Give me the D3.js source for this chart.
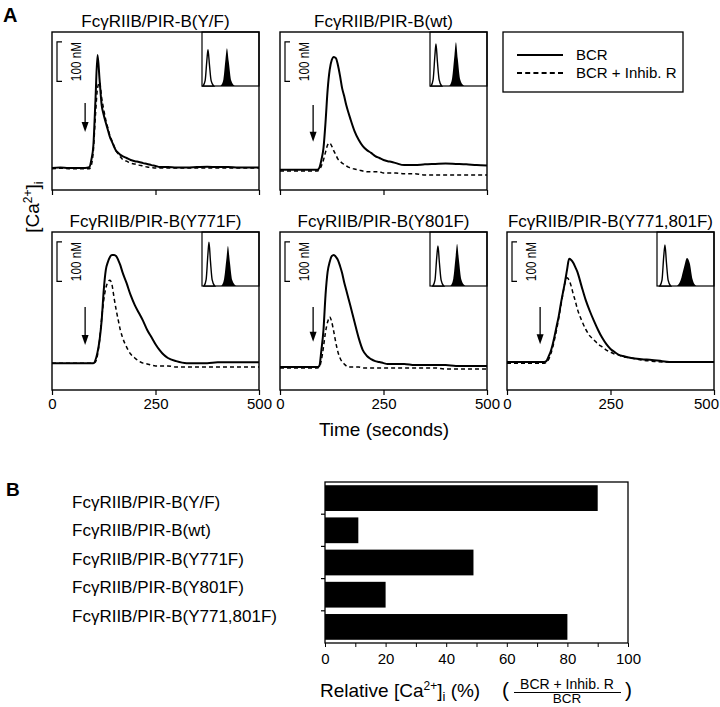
<!DOCTYPE html>
<html><head><meta charset="utf-8">
<script src="https://cdn.jsdelivr.net/npm/d3@7"></script>
<style>body{margin:0;background:#fff}svg{display:block}</style>
</head><body><svg id="c" width="720" height="707"></svg>
<script>
// ---------- DATA ----------
const panelNames = ["FcγRIIB/PIR-B(Y/F)","FcγRIIB/PIR-B(wt)","FcγRIIB/PIR-B(Y771F)","FcγRIIB/PIR-B(Y801F)","FcγRIIB/PIR-B(Y771,801F)"];
const times = [0,20,40,60,80,90,95,100,105,110,115,120,125,130,135,140,145,150,155,160,165,170,180,190,200,210,220,230,240,250,260,270,280,300,325,350,375,400,425,450,475,500];
// [Ca2+]i in nM
const bcrYF = [56,57,56,56,56,58,76,114,228,342,278,215,190,170,152,134,122,109,99,94,89,86,81,76,73,71,68,66,63,61,58,58,58,57,57,58,59,58,58,57,57,57];
const inhYF = [54,55,54,54,54,54,63,101,190,258,273,233,203,177,157,137,124,111,99,91,84,78,73,68,66,63,61,58,57,56,56,56,56,56,56,56,56,56,56,56,56,56];
const bcrWT = [51,51,51,51,51,51,56,76,106,172,253,304,329,337,334,316,289,258,238,215,197,180,149,127,111,101,94,86,81,76,73,71,68,63,63,65,66,67,66,65,63,62];
const inhWT = [48,48,48,48,48,48,51,61,76,96,114,119,111,99,89,78,73,68,65,61,58,56,53,51,48,46,46,46,46,43,43,43,43,41,41,38,38,38,38,38,38,38];
const bcr771 = [68,68,68,68,68,68,68,68,76,96,127,177,253,304,324,337,342,342,339,329,316,299,271,240,215,195,175,152,134,116,101,89,81,73,68,68,68,70,70,70,70,70];
const inh771 = [68,68,68,68,68,68,68,68,71,89,127,182,228,258,273,278,266,233,203,177,152,134,109,91,81,73,68,66,63,61,61,61,61,58,58,58,58,58,58,58,58,58];
const bcr801 = [58,58,58,58,58,58,61,101,152,241,299,324,339,342,337,329,314,296,273,253,233,213,172,132,101,86,78,73,71,68,66,66,66,66,63,63,63,63,61,61,61,61];
const inh801 = [56,56,56,56,56,56,58,76,109,147,172,185,172,147,119,96,81,71,66,61,58,58,58,58,56,56,56,56,56,56,56,56,56,56,56,56,56,53,53,53,53,53];
const bcrDbl = [71,71,71,71,71,71,73,84,96,114,137,162,187,218,246,273,304,332,329,322,311,299,263,228,200,175,152,132,116,104,96,89,86,81,78,76,73,71,71,71,71,71];
const inhDbl = [68,68,68,68,68,68,70,76,89,106,129,154,182,213,243,271,284,278,263,243,225,205,177,154,137,127,116,109,101,96,91,89,84,81,76,73,71,71,71,71,71,71];
const stimTime = 80;
const timeTicks = [0,250,500];
const scaleBarNM = [275,375];
// inset histograms: x = log10 fluorescence, y = relative count
const histOpenX = [[0.07,0.22,0.34,0.42,0.52,0.64,0.82],[0.07,0.22,0.34,0.42,0.52,0.64,0.82],[0.14,0.29,0.41,0.49,0.59,0.71,0.89],[0.2,0.35,0.47,0.56,0.66,0.78,0.96],[0.2,0.35,0.47,0.56,0.66,0.78,0.96]];
const histOpenY = [[0,0.1,0.47,0.67,0.4,0.1,0],[0,0.12,0.55,0.78,0.45,0.12,0],[0,0.12,0.57,0.81,0.47,0.12,0],[0,0.11,0.52,0.74,0.43,0.11,0],[0,0.11,0.54,0.76,0.44,0.11,0]];
const histFillX = [[1.3,1.5,1.65,1.75,1.88,2.05,2.3],[1.35,1.55,1.72,1.82,1.95,2.12,2.4],[1.35,1.55,1.72,1.82,1.95,2.12,2.4],[1.43,1.63,1.8,1.9,2.03,2.2,2.48],[1.4,1.65,1.9,2.1,2.3,2.5,2.75]];
const histFillY = [[0,0.12,0.5,0.7,0.45,0.1,0],[0,0.14,0.58,0.81,0.5,0.12,0],[0,0.13,0.52,0.74,0.46,0.11,0],[0,0.13,0.55,0.78,0.48,0.12,0],[0,0.1,0.35,0.52,0.42,0.12,0]];
const legendLabels = ["BCR","BCR + Inhib. R"];
// panel B
const barValues = [90,11,49,20,80];
const barTicks = [0,20,40,60,80,100];
const barMinorTicks = [10,30,50,70,90];

// ---------- DRAW ----------
const FONT = '"Liberation Sans", Arial, Helvetica, sans-serif';
const svg = d3.select("#c").attr("font-family", FONT);
const W = 207, H = 158;
const series = [[bcrYF,inhYF],[bcrWT,inhWT],[bcr771,inh771],[bcr801,inh801],[bcrDbl,inhDbl]];
const layout = [
  {col:52,row:32,top:220,tip:147,labels:false,lastShift:0},
  {col:280,row:32,top:215,tip:122,labels:false,lastShift:0},
  {col:52,row:232,top:210,tip:114,labels:true,lastShift:0},
  {col:280,row:232,top:210,tip:122,labels:true,lastShift:0},
  {col:507,row:232,top:210,tip:116,labels:true,lastShift:-8}
];
const x = d3.scaleLinear([0,500],[0,W]);
const y = d3.scaleLinear([0,400],[H,0]);
const line = d3.line().x(d=>x(d[0])).y(d=>y(d[1])).curve(d3.curveMonotoneX);
const IW = 57, IH = 54;
const xh = d3.scaleLinear([0,4],[0,IW]);
const yh = d3.scaleLinear([0,1],[IH,0]);
const area = d3.area().x(d=>xh(d[0])).y0(IH).y1(d=>yh(d[1])).curve(d3.curveMonotoneX);

layout.forEach((L,i)=>{
  const g = svg.append("g").attr("transform",`translate(${L.col},${L.row})`);
  g.append("text").attr("x",W/2).attr("y",-5).attr("text-anchor","middle").attr("font-size",17).text(panelNames[i]);
  const [bcr,inh] = series[i];
  g.append("path").datum(times.map((t,k)=>[t,inh[k]])).attr("d",line).attr("fill","none").attr("stroke","#000").attr("stroke-width",1.5).attr("stroke-dasharray","4,3");
  g.append("path").datum(times.map((t,k)=>[t,bcr[k]])).attr("d",line).attr("fill","none").attr("stroke","#000").attr("stroke-width",2);
  // inset
  const ig = g.append("g").attr("transform",`translate(${W-IW},0)`);
  ig.append("rect").attr("width",IW).attr("height",IH).attr("fill","#fff").attr("stroke","#000").attr("stroke-width",1.2);
  ig.append("path").datum(histFillX[i].map((v,k)=>[v,histFillY[i][k]])).attr("d",area).attr("fill","#000");
  ig.append("path").datum(histOpenX[i].map((v,k)=>[v,histOpenY[i][k]])).attr("d",area).attr("fill","#fff").attr("stroke","#000").attr("stroke-width",1.4);
  // box
  g.append("rect").attr("width",W).attr("height",H).attr("fill","none").attr("stroke","#000").attr("stroke-width",1.4);
  // axis
  const ax = g.append("g").attr("transform",`translate(0,${H})`)
    .call(d3.axisBottom(x).tickValues(timeTicks).tickSize(5).tickSizeOuter(0).tickPadding(3).tickFormat(L.labels?d3.format("d"):()=>""));
  ax.select(".domain").remove();
  ax.selectAll("line").attr("stroke-width",1.2);
  ax.selectAll("text").attr("font-size",15).attr("font-family",FONT)
    .attr("dx",(d)=>d===timeTicks[timeTicks.length-1]?L.lastShift:0);
  // scale bar
  const sb = g.append("g");
  sb.append("path").attr("d",`M10,${y(scaleBarNM[1])}H5V${y(scaleBarNM[0])}H10`).attr("fill","none").attr("stroke","#000").attr("stroke-width",1.2);
  const ym = (y(scaleBarNM[0])+y(scaleBarNM[1]))/2;
  sb.append("text").attr("transform",`translate(29,${ym}) rotate(-90)`).attr("text-anchor","middle").attr("font-size",15)
    .attr("textLength",39).attr("lengthAdjust","spacingAndGlyphs").text("100 nM");
  // arrow
  const ax0 = x(stimTime);
  g.append("line").attr("x1",ax0).attr("x2",ax0).attr("y1",y(L.top)).attr("y2",y(L.tip)-8).attr("stroke","#000").attr("stroke-width",1.3);
  g.append("path").attr("d",`M${ax0-3.5},${y(L.tip)-10}L${ax0+3.5},${y(L.tip)-10}L${ax0},${y(L.tip)}Z`).attr("fill","#000");
});

// legend
const lg = svg.append("g").attr("transform","translate(503,32)");
lg.append("rect").attr("width",180).attr("height",60).attr("fill","none").attr("stroke","#000").attr("stroke-width",1.3);
legendLabels.forEach((t,k)=>{
  const yy = 23 + k*18;
  lg.append("line").attr("x1",14).attr("x2",60).attr("y1",yy).attr("y2",yy).attr("stroke","#000").attr("stroke-width",k?1.8:2).attr("stroke-dasharray",k?"5,3.2":null);
  lg.append("text").attr("x",73).attr("y",yy+5).attr("font-size",15).text(t);
});

// panel labels
svg.append("text").attr("x",3).attr("y",22).attr("font-size",20).attr("font-weight","bold").text("A");
svg.append("text").attr("x",6).attr("y",496).attr("font-size",19).attr("font-weight","bold").text("B");

// y label
const yl = svg.append("text").attr("transform","translate(39,207) rotate(-90)").attr("text-anchor","middle").attr("font-size",19);
yl.append("tspan").text("[Ca");
yl.append("tspan").attr("dy",-7).attr("font-size",12).text("2+");
yl.append("tspan").attr("dy",7).text("]");
yl.append("tspan").attr("dy",4).attr("font-size",13).text("i");

// time label
svg.append("text").attr("x",384).attr("y",436).attr("text-anchor","middle").attr("font-size",19).text("Time (seconds)");

// ---------- PANEL B ----------
const xB = d3.scaleLinear([0,100],[325,628]);
const yB = d3.scaleBand(panelNames,[482,643]).paddingInner(0.2).paddingOuter(0.1);
const yLab = d3.scalePoint(panelNames,[502,616]);
svg.append("g").selectAll("rect").data(barValues).join("rect")
  .attr("x",xB(0)).attr("y",(d,i)=>yB(panelNames[i])).attr("width",d=>xB(d)-xB(0)).attr("height",yB.bandwidth()).attr("fill","#000");
svg.append("rect").attr("x",xB(0)).attr("y",482).attr("width",xB(100)-xB(0)).attr("height",161).attr("fill","none").attr("stroke","#000").attr("stroke-width",1.3);
const bx = svg.append("g").attr("transform","translate(0,643)")
  .call(d3.axisBottom(xB).tickValues(barTicks.concat(barMinorTicks)).tickSize(4).tickPadding(6).tickFormat(d=>barTicks.includes(d)?d:""));
bx.select(".domain").remove();
bx.selectAll("text").attr("font-size",15).attr("font-family",FONT);
// category boundary ticks on left
const step = yB.step();
svg.append("g").selectAll("line").data(panelNames.slice(0,4)).join("line")
  .attr("x1",xB(0)-4).attr("x2",xB(0)).attr("y1",d=>yB(d)+yB.bandwidth()+(step-yB.bandwidth())/2).attr("y2",d=>yB(d)+yB.bandwidth()+(step-yB.bandwidth())/2)
  .attr("stroke","#000").attr("stroke-width",1.2);
svg.append("g").selectAll("text").data(panelNames).join("text")
  .attr("x",72).attr("y",d=>yLab(d)).attr("dy","0.35em").attr("font-size",17).text(d=>d);
// x label
const rl = svg.append("text").attr("x",320).attr("y",697).attr("font-size",19);
rl.append("tspan").text("Relative [Ca");
rl.append("tspan").attr("dy",-7).attr("font-size",12).text("2+");
rl.append("tspan").attr("dy",7).text("]");
rl.append("tspan").attr("dy",4).attr("font-size",13).text("i");
rl.append("tspan").attr("dy",-4).text(" (%)");
// fraction
svg.append("text").attr("x",502).attr("y",697).attr("font-size",21).text("(");
svg.append("text").attr("x",567).attr("y",689).attr("text-anchor","middle").attr("font-size",14).text(legendLabels[1]);
svg.append("line").attr("x1",514).attr("x2",621).attr("y1",692.5).attr("y2",692.5).attr("stroke","#000").attr("stroke-width",1.1);
svg.append("text").attr("x",567).attr("y",703).attr("text-anchor","middle").attr("font-size",13.5).text(legendLabels[0]);
svg.append("text").attr("x",625).attr("y",697).attr("font-size",21).text(")");
</script></body></html>
